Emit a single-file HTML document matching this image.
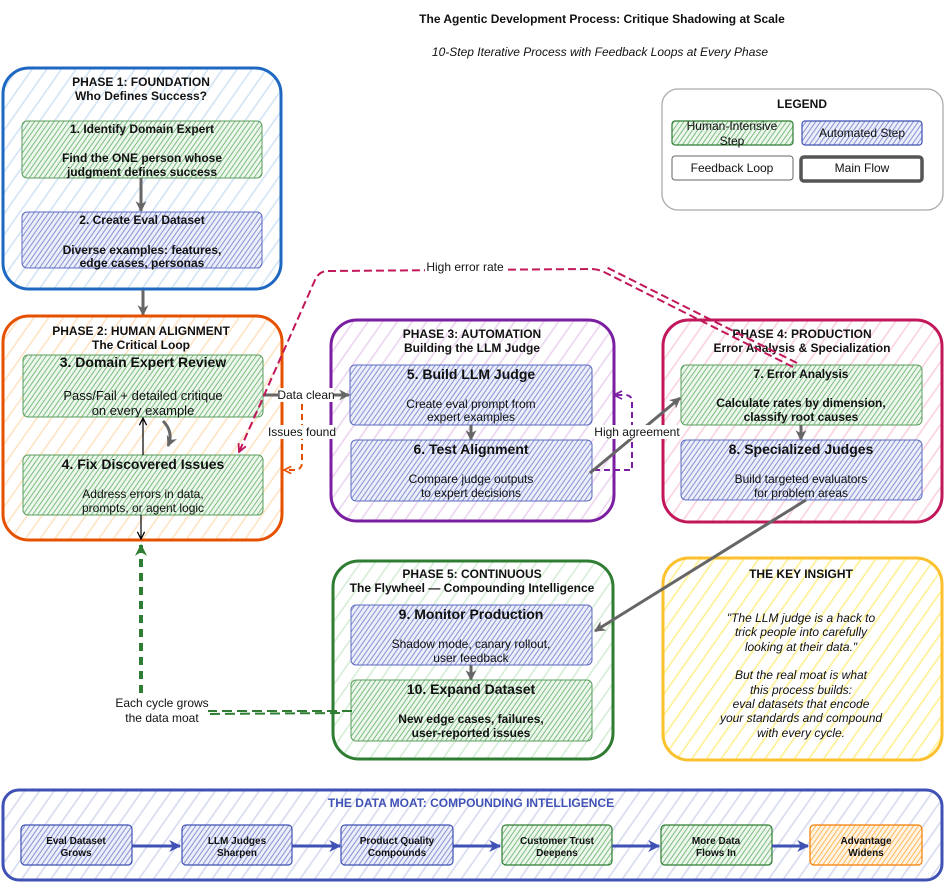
<!DOCTYPE html>
<html><head><meta charset="utf-8"><style>
html,body{margin:0;padding:0;background:#fff;}
svg{display:block;}
text{font-family:"Liberation Sans",Arial,sans-serif;fill:#111;}
.b{font-weight:bold;}
.i{font-style:italic;}
</style></head><body>
<svg width="952" height="882" viewBox="0 0 952 882" xmlns="http://www.w3.org/2000/svg">
<defs>
  <pattern id="hBlue" width="12" height="12" patternUnits="userSpaceOnUse" patternTransform="rotate(35)"><rect width="12" height="12" fill="#fff"/><line x1="6" y1="0" x2="6" y2="12" stroke="#cfe2f6" stroke-width="1.5"/></pattern>
  <pattern id="hOrange" width="12" height="12" patternUnits="userSpaceOnUse" patternTransform="rotate(35)"><rect width="12" height="12" fill="#fff"/><line x1="6" y1="0" x2="6" y2="12" stroke="#ffe2c0" stroke-width="1.5"/></pattern>
  <pattern id="hPurple" width="12" height="12" patternUnits="userSpaceOnUse" patternTransform="rotate(35)"><rect width="12" height="12" fill="#fff"/><line x1="6" y1="0" x2="6" y2="12" stroke="#ead2ef" stroke-width="1.5"/></pattern>
  <pattern id="hPink" width="12" height="12" patternUnits="userSpaceOnUse" patternTransform="rotate(35)"><rect width="12" height="12" fill="#fff"/><line x1="6" y1="0" x2="6" y2="12" stroke="#f9cfdc" stroke-width="1.5"/></pattern>
  <pattern id="hGreen" width="12" height="12" patternUnits="userSpaceOnUse" patternTransform="rotate(35)"><rect width="12" height="12" fill="#fff"/><line x1="6" y1="0" x2="6" y2="12" stroke="#d3ecd4" stroke-width="1.5"/></pattern>
  <pattern id="hYellow" width="12" height="12" patternUnits="userSpaceOnUse" patternTransform="rotate(35)"><rect width="12" height="12" fill="#fff"/><line x1="6" y1="0" x2="6" y2="12" stroke="#fff29a" stroke-width="1.8"/></pattern>
  <pattern id="hIndigo" width="12" height="12" patternUnits="userSpaceOnUse" patternTransform="rotate(35)"><rect width="12" height="12" fill="#fff"/><line x1="6" y1="0" x2="6" y2="12" stroke="#d3d8ef" stroke-width="1.5"/></pattern>
  <pattern id="sGreen" width="4" height="4" patternUnits="userSpaceOnUse" patternTransform="rotate(35)"><rect width="4" height="4" fill="#eef7ee"/><line x1="2" y1="0" x2="2" y2="4" stroke="#7dbd80" stroke-width="1"/></pattern>
  <pattern id="sBlue" width="4" height="4" patternUnits="userSpaceOnUse" patternTransform="rotate(35)"><rect width="4" height="4" fill="#eceef9"/><line x1="2" y1="0" x2="2" y2="4" stroke="#8893d4" stroke-width="1"/></pattern>
  <pattern id="sOrange" width="4" height="4" patternUnits="userSpaceOnUse" patternTransform="rotate(35)"><rect width="4" height="4" fill="#fff4e4"/><line x1="2" y1="0" x2="2" y2="4" stroke="#ffb85a" stroke-width="1"/></pattern>
  <marker id="mGray" viewBox="0 0 10 10" refX="9" refY="5" markerWidth="11" markerHeight="11" markerUnits="userSpaceOnUse" orient="auto"><path d="M0,0 L10,5 L0,10 L3,5 z" fill="#666"/></marker>
  <marker id="mIndigo" viewBox="0 0 10 10" refX="9" refY="5" markerWidth="12" markerHeight="12" markerUnits="userSpaceOnUse" orient="auto"><path d="M0,0 L10,5 L0,10 L3,5 z" fill="#3f51b5"/></marker>
  <marker id="mGreen" viewBox="0 0 10 10" refX="9" refY="5" markerWidth="12" markerHeight="12" markerUnits="userSpaceOnUse" orient="auto"><path d="M0,0 L10,5 L0,10 L3,5 z" fill="#2e7d32"/></marker>
  <marker id="mBlack" viewBox="0 0 10 10" refX="9" refY="5" markerWidth="9" markerHeight="9" markerUnits="userSpaceOnUse" orient="auto"><path d="M1,1 L9,5 L1,9" fill="none" stroke="#000" stroke-width="1.4"/></marker>
  <marker id="mPink" viewBox="0 0 10 10" refX="9" refY="5" markerWidth="10" markerHeight="10" markerUnits="userSpaceOnUse" orient="auto"><path d="M1,1 L9,5 L1,9" fill="none" stroke="#c2185b" stroke-width="1.8"/></marker>
  <marker id="mOrange" viewBox="0 0 10 10" refX="9" refY="5" markerWidth="9" markerHeight="9" markerUnits="userSpaceOnUse" orient="auto"><path d="M1,1 L9,5 L1,9" fill="none" stroke="#e65100" stroke-width="1.8"/></marker>
  <marker id="mPurple" viewBox="0 0 10 10" refX="9" refY="5" markerWidth="10" markerHeight="10" markerUnits="userSpaceOnUse" orient="auto"><path d="M1,1 L9,5 L1,9" fill="none" stroke="#7b1fa2" stroke-width="1.8"/></marker>
</defs>

<!-- Title -->
<text x="602" y="23" text-anchor="middle" class="b" font-size="12">The Agentic Development Process: Critique Shadowing at Scale</text>
<text x="600" y="56" text-anchor="middle" class="i" font-size="12">10-Step Iterative Process with Feedback Loops at Every Phase</text>

<!-- Legend -->
<rect x="662" y="89" width="281" height="121" rx="16" fill="#fff" stroke="#aaa" stroke-width="1.3"/>
<text x="802" y="108" text-anchor="middle" class="b" font-size="12">LEGEND</text>
<rect x="672" y="121" width="121" height="24" rx="3" fill="url(#sGreen)" stroke="#2e7d32" stroke-width="1.2"/>
<text x="732" y="130" text-anchor="middle" font-size="12">Human-Intensive</text>
<text x="732" y="145" text-anchor="middle" font-size="12">Step</text>
<rect x="802" y="121" width="120" height="24" rx="3" fill="url(#sBlue)" stroke="#3f51b5" stroke-width="1.2"/>
<text x="862" y="137" text-anchor="middle" font-size="12">Automated Step</text>
<rect x="672" y="156" width="121" height="24" rx="3" fill="#fff" stroke="#666" stroke-width="1"/>
<text x="732" y="172" text-anchor="middle" font-size="12">Feedback Loop</text>
<rect x="801" y="157" width="121" height="24" rx="3" fill="#fff" stroke="#555" stroke-width="3.5"/>
<text x="862" y="172" text-anchor="middle" font-size="12">Main Flow</text>

<!-- Phase 1 -->
<rect x="3" y="68" width="278" height="221" rx="26" fill="url(#hBlue)" stroke="#1e68c2" stroke-width="3"/>
<text x="141" y="86" text-anchor="middle" class="b" font-size="12">PHASE 1: FOUNDATION</text>
<text x="141" y="100" text-anchor="middle" class="b" font-size="12">Who Defines Success?</text>
<rect x="22" y="121" width="240" height="57" rx="5" fill="url(#sGreen)" stroke="#5a9e5d" stroke-width="1"/>
<text x="142" y="133" text-anchor="middle" class="b" font-size="12">1. Identify Domain Expert</text>
<text x="142" y="162" text-anchor="middle" class="b" font-size="12">Find the ONE person whose</text>
<text x="142" y="176" text-anchor="middle" class="b" font-size="12">judgment defines success</text>
<line x1="141" y1="178" x2="141" y2="211" stroke="#666" stroke-width="3" marker-end="url(#mGray)"/>
<rect x="22" y="212" width="240" height="56" rx="5" fill="url(#sBlue)" stroke="#5c6bc0" stroke-width="1"/>
<text x="142" y="224" text-anchor="middle" class="b" font-size="12">2. Create Eval Dataset</text>
<text x="142" y="254" text-anchor="middle" class="b" font-size="12">Diverse examples: features,</text>
<text x="142" y="267" text-anchor="middle" class="b" font-size="12">edge cases, personas</text>

<line x1="143" y1="290" x2="143" y2="315" stroke="#666" stroke-width="3" marker-end="url(#mGray)"/>

<!-- Phase 2 -->
<rect x="3" y="316" width="279" height="224" rx="26" fill="url(#hOrange)" stroke="#e65100" stroke-width="3"/>
<text x="141" y="335" text-anchor="middle" class="b" font-size="12">PHASE 2: HUMAN ALIGNMENT</text>
<text x="141" y="349" text-anchor="middle" class="b" font-size="12">The Critical Loop</text>
<rect x="23" y="355" width="240" height="62" rx="5" fill="url(#sGreen)" stroke="#5a9e5d" stroke-width="1"/>
<text x="143" y="367" text-anchor="middle" class="b" font-size="14">3. Domain Expert Review</text>
<text x="143" y="400" text-anchor="middle" font-size="13">Pass/Fail + detailed critique</text>
<text x="143" y="415" text-anchor="middle" font-size="13">on every example</text>
<rect x="23" y="455" width="240" height="60" rx="5" fill="url(#sGreen)" stroke="#5a9e5d" stroke-width="1"/>
<text x="143" y="469" text-anchor="middle" class="b" font-size="14">4. Fix Discovered Issues</text>
<text x="143" y="498" text-anchor="middle" font-size="12">Address errors in data,</text>
<text x="143" y="512" text-anchor="middle" font-size="12">prompts, or agent logic</text>
<line x1="143" y1="455" x2="143" y2="418" stroke="#000" stroke-width="1.2" marker-end="url(#mBlack)"/>
<path d="M163 421 Q174 432 168 446" fill="none" stroke="#666" stroke-width="3" marker-end="url(#mGray)"/>
<line x1="141" y1="515" x2="141" y2="539" stroke="#000" stroke-width="1.2" marker-end="url(#mBlack)"/>

<!-- Phase 3 -->
<rect x="331" y="320" width="283" height="201" rx="26" fill="url(#hPurple)" stroke="#7b1fa2" stroke-width="3"/>
<text x="472" y="338" text-anchor="middle" class="b" font-size="12">PHASE 3: AUTOMATION</text>
<text x="472" y="352" text-anchor="middle" class="b" font-size="12">Building the LLM Judge</text>
<rect x="350" y="365" width="242" height="60" rx="5" fill="url(#sBlue)" stroke="#5c6bc0" stroke-width="1"/>
<text x="471" y="379" text-anchor="middle" class="b" font-size="14">5. Build LLM Judge</text>
<text x="471" y="408" text-anchor="middle" font-size="12">Create eval prompt from</text>
<text x="471" y="421" text-anchor="middle" font-size="12">expert examples</text>
<line x1="471" y1="425" x2="471" y2="440" stroke="#666" stroke-width="3" marker-end="url(#mGray)"/>
<rect x="351" y="440" width="241" height="61" rx="5" fill="url(#sBlue)" stroke="#5c6bc0" stroke-width="1"/>
<text x="471" y="454" text-anchor="middle" class="b" font-size="14">6. Test Alignment</text>
<text x="471" y="483" text-anchor="middle" font-size="12">Compare judge outputs</text>
<text x="471" y="497" text-anchor="middle" font-size="12">to expert decisions</text>

<!-- Phase 4 -->
<rect x="663" y="320" width="279" height="202" rx="26" fill="url(#hPink)" stroke="#c2185b" stroke-width="3"/>
<text x="802" y="338" text-anchor="middle" class="b" font-size="12">PHASE 4: PRODUCTION</text>
<text x="802" y="352" text-anchor="middle" class="b" font-size="12">Error Analysis &amp; Specialization</text>
<rect x="681" y="365" width="241" height="60" rx="5" fill="url(#sGreen)" stroke="#5a9e5d" stroke-width="1"/>
<text x="801" y="378" text-anchor="middle" class="b" font-size="12">7. Error Analysis</text>
<text x="801" y="407" text-anchor="middle" class="b" font-size="12">Calculate rates by dimension,</text>
<text x="801" y="421" text-anchor="middle" class="b" font-size="12">classify root causes</text>
<line x1="801" y1="425" x2="801" y2="440" stroke="#666" stroke-width="3" marker-end="url(#mGray)"/>
<rect x="681" y="440" width="241" height="60" rx="5" fill="url(#sBlue)" stroke="#5c6bc0" stroke-width="1"/>
<text x="801" y="454" text-anchor="middle" class="b" font-size="14">8. Specialized Judges</text>
<text x="801" y="483" text-anchor="middle" font-size="12">Build targeted evaluators</text>
<text x="801" y="497" text-anchor="middle" font-size="12">for problem areas</text>

<!-- Phase 5 -->
<rect x="333" y="561" width="280" height="198" rx="26" fill="url(#hGreen)" stroke="#2e7d32" stroke-width="3"/>
<text x="472" y="578" text-anchor="middle" class="b" font-size="12">PHASE 5: CONTINUOUS</text>
<text x="472" y="592" text-anchor="middle" class="b" font-size="12">The Flywheel — Compounding Intelligence</text>
<rect x="351" y="605" width="241" height="60" rx="5" fill="url(#sBlue)" stroke="#5c6bc0" stroke-width="1"/>
<text x="471" y="619" text-anchor="middle" class="b" font-size="14">9. Monitor Production</text>
<text x="471" y="648" text-anchor="middle" font-size="12">Shadow mode, canary rollout,</text>
<text x="471" y="662" text-anchor="middle" font-size="12">user feedback</text>
<line x1="471" y1="665" x2="471" y2="680" stroke="#666" stroke-width="3" marker-end="url(#mGray)"/>
<rect x="351" y="680" width="241" height="61" rx="5" fill="url(#sGreen)" stroke="#5a9e5d" stroke-width="1"/>
<text x="471" y="694" text-anchor="middle" class="b" font-size="14">10. Expand Dataset</text>
<text x="471" y="723" text-anchor="middle" class="b" font-size="12">New edge cases, failures,</text>
<text x="471" y="737" text-anchor="middle" class="b" font-size="12">user-reported issues</text>

<!-- Key insight -->
<rect x="663" y="558" width="279" height="202" rx="26" fill="url(#hYellow)" stroke="#fbc02d" stroke-width="3"/>
<text x="801" y="578" text-anchor="middle" class="b" font-size="12">THE KEY INSIGHT</text>
<g class="i" font-size="12" text-anchor="middle">
<text x="801" y="622" class="i">"The LLM judge is a hack to</text>
<text x="801" y="636" class="i">trick people into carefully</text>
<text x="801" y="651" class="i">looking at their data."</text>
<text x="801" y="679" class="i">But the real moat is what</text>
<text x="801" y="694" class="i">this process builds:</text>
<text x="801" y="708" class="i">eval datasets that encode</text>
<text x="801" y="722" class="i">your standards and compound</text>
<text x="801" y="737" class="i">with every cycle.</text>
</g>

<!-- Connectors -->
<!-- Data clean -->
<line x1="263" y1="395" x2="349" y2="395" stroke="#666" stroke-width="3" marker-end="url(#mGray)"/>
<!-- Issues found (orange dashed) -->
<path d="M302 404 L302 462 Q302 470 294 470 L284 470" fill="none" stroke="#e65100" stroke-width="2" stroke-dasharray="6 4" marker-end="url(#mOrange)"/>
<!-- Purple dashed loop -->
<path d="M594 470 L632 470 L632 402 Q632 395 625 395 L614 395" fill="none" stroke="#7b1fa2" stroke-width="2" stroke-dasharray="6 4" marker-end="url(#mPurple)"/>
<!-- High agreement -->
<line x1="590" y1="473" x2="680" y2="398" stroke="#666" stroke-width="3" marker-end="url(#mGray)"/>
<!-- 8 -> 9 -->
<line x1="806" y1="500" x2="595" y2="631" stroke="#666" stroke-width="3" marker-end="url(#mGray)"/>
<!-- High error rate (pink dashed) -->
<path d="M793 367 L604 272 Q598 269 590 269 L328 271 Q319 271 315 280 L239 452" fill="none" stroke="#c2185b" stroke-width="2" stroke-dasharray="8 4" marker-end="url(#mPink)"/>
<path d="M797 363 L606 267" fill="none" stroke="#c2185b" stroke-width="2" stroke-dasharray="8 4"/>
<!-- Green dashed flywheel -->
<path d="M352 711 L208 711" fill="none" stroke="#2e7d32" stroke-width="2" stroke-dasharray="10 5"/>
<path d="M340 713 L208 714" fill="none" stroke="#2e7d32" stroke-width="2" stroke-dasharray="10 5"/>
<path d="M141 693 L141 545" fill="none" stroke="#2e7d32" stroke-width="4" stroke-dasharray="8 6" marker-end="url(#mGreen)"/>

<!-- Labels with white bg -->
<rect x="278" y="388" width="56" height="14" fill="#fff"/>
<text x="306" y="399" text-anchor="middle" font-size="12">Data clean</text>
<rect x="268" y="425" width="68" height="14" fill="#fff"/>
<text x="302" y="436" text-anchor="middle" font-size="12">Issues found</text>
<rect x="594" y="425" width="86" height="14" fill="#fff"/>
<text x="637" y="436" text-anchor="middle" font-size="12">High agreement</text>
<rect x="425" y="260" width="81" height="14" fill="#fff"/>
<text x="465" y="271" text-anchor="middle" font-size="12">High error rate</text>
<text x="162" y="707" text-anchor="middle" font-size="12">Each cycle grows</text>
<text x="162" y="722" text-anchor="middle" font-size="12">the data moat</text>

<!-- Data Moat -->
<rect x="3" y="790" width="939" height="90" rx="16" fill="url(#hIndigo)" stroke="#3f51b5" stroke-width="3"/>
<text x="471" y="807" text-anchor="middle" class="b" font-size="12" style="fill:#3f51b5">THE DATA MOAT: COMPOUNDING INTELLIGENCE</text>
<g font-size="10" class="b" text-anchor="middle">
<rect x="21" y="825" width="111" height="40" rx="4" fill="url(#sBlue)" stroke="#3f51b5" stroke-width="1.2"/>
<text x="76" y="844" class="b">Eval Dataset</text><text x="76" y="856" class="b">Grows</text>
<rect x="182" y="825" width="110" height="40" rx="4" fill="url(#sBlue)" stroke="#3f51b5" stroke-width="1.2"/>
<text x="237" y="844" class="b">LLM Judges</text><text x="237" y="856" class="b">Sharpen</text>
<rect x="341" y="825" width="112" height="40" rx="4" fill="url(#sBlue)" stroke="#3f51b5" stroke-width="1.2"/>
<text x="397" y="844" class="b">Product Quality</text><text x="397" y="856" class="b">Compounds</text>
<rect x="502" y="825" width="110" height="40" rx="4" fill="url(#sGreen)" stroke="#2e7d32" stroke-width="1.2"/>
<text x="557" y="844" class="b">Customer Trust</text><text x="557" y="856" class="b">Deepens</text>
<rect x="661" y="825" width="111" height="40" rx="4" fill="url(#sGreen)" stroke="#2e7d32" stroke-width="1.2"/>
<text x="716" y="844" class="b">More Data</text><text x="716" y="856" class="b">Flows In</text>
<rect x="810" y="825" width="112" height="40" rx="4" fill="url(#sOrange)" stroke="#f57c00" stroke-width="1.2"/>
<text x="866" y="844" class="b">Advantage</text><text x="866" y="856" class="b">Widens</text>
</g>
<line x1="132" y1="846" x2="180" y2="846" stroke="#3f51b5" stroke-width="3" marker-end="url(#mIndigo)"/>
<line x1="292" y1="846" x2="340" y2="846" stroke="#3f51b5" stroke-width="3" marker-end="url(#mIndigo)"/>
<line x1="453" y1="846" x2="500" y2="846" stroke="#3f51b5" stroke-width="3" marker-end="url(#mIndigo)"/>
<line x1="612" y1="846" x2="659" y2="846" stroke="#3f51b5" stroke-width="3" marker-end="url(#mIndigo)"/>
<line x1="772" y1="846" x2="808" y2="846" stroke="#3f51b5" stroke-width="3" marker-end="url(#mIndigo)"/>
</svg>
</body></html>
